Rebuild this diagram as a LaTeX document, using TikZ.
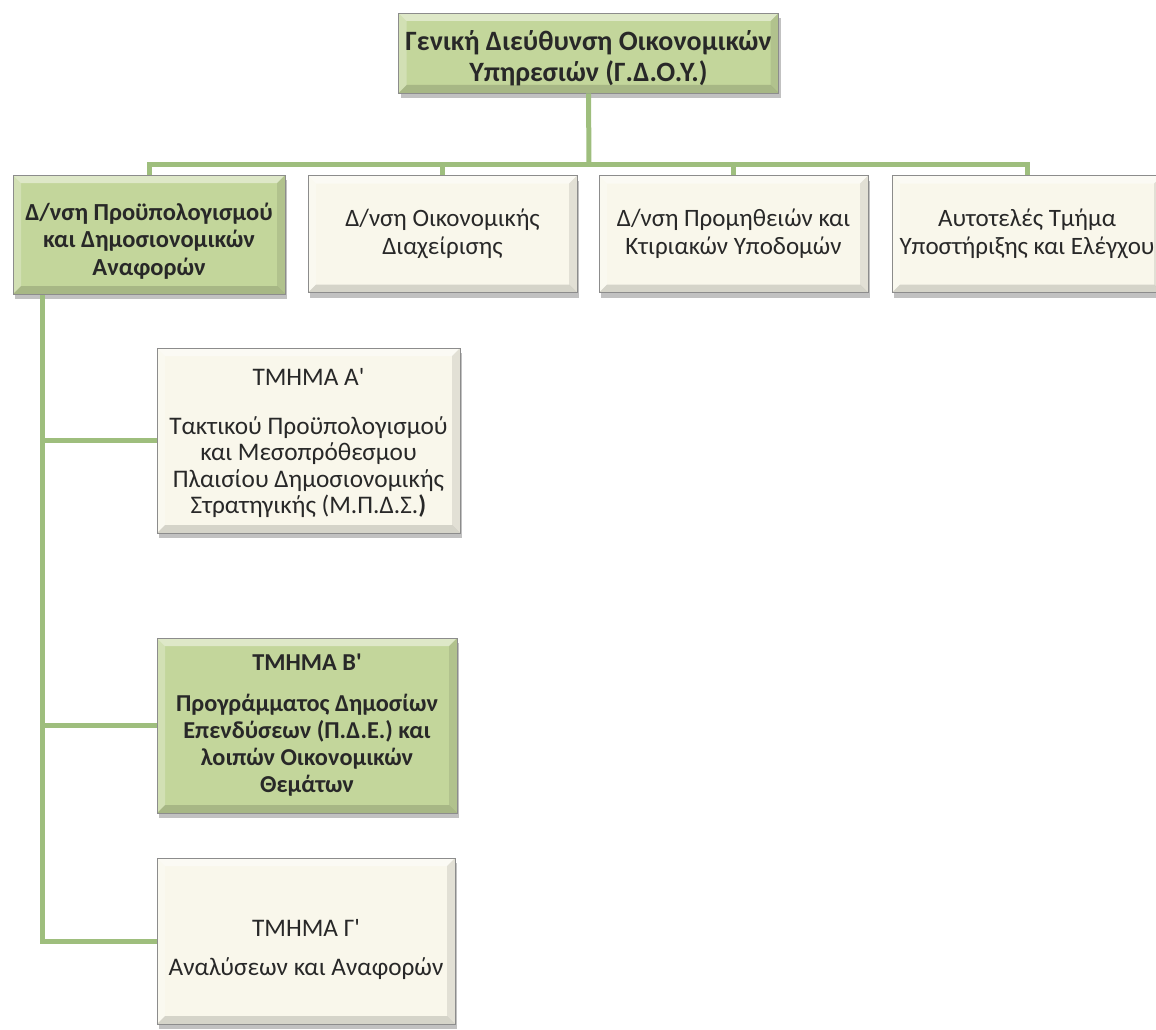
\documentclass[tikz,border=0pt]{standalone}
\usepackage{fontspec}
\setmainfont{Carlito}
\usetikzlibrary{shadows}
\newcommand\mystrut[1]{\rule{0pt}{#1}}
\definecolor{boxgreen}{RGB}{195,214,155}
\definecolor{boxcream}{RGB}{249,247,235}
\definecolor{linkgreen}{RGB}{158,190,125}
\definecolor{txt}{RGB}{40,40,40}
\definecolor{edge}{RGB}{140,140,140}
\tikzset{
  bevel/.style={path picture={
    \fill[white,opacity=0.45] (path picture bounding box.north west) -- (path picture bounding box.north east)
      -- ([shift={(-8pt,-8pt)}]path picture bounding box.north east) -- ([shift={(8pt,-8pt)}]path picture bounding box.north west) -- cycle;
    \fill[white,opacity=0.25] (path picture bounding box.north west) -- (path picture bounding box.south west)
      -- ([shift={(8pt,8pt)}]path picture bounding box.south west) -- ([shift={(8pt,-8pt)}]path picture bounding box.north west) -- cycle;
    \fill[black,opacity=0.14] (path picture bounding box.south west) -- (path picture bounding box.south east)
      -- ([shift={(-8pt,8pt)}]path picture bounding box.south east) -- ([shift={(8pt,8pt)}]path picture bounding box.south west) -- cycle;
    \fill[black,opacity=0.09] (path picture bounding box.north east) -- (path picture bounding box.south east)
      -- ([shift={(-8pt,8pt)}]path picture bounding box.south east) -- ([shift={(-8pt,-8pt)}]path picture bounding box.north east) -- cycle;
  }},
  unitbox/.style={draw=edge, line width=0.8pt, bevel, align=center, text=txt, inner sep=0pt,
    drop shadow={shadow xshift=2pt, shadow yshift=-5pt, opacity=0.35, fill=black!70}},
  greenbox/.style={unitbox, fill=boxgreen},
  creambox/.style={unitbox, fill=boxcream},
  link/.style={draw=linkgreen, line width=5pt},
  topfont/.style={font=\fontsize{28}{31}\selectfont\bfseries},
  rowfont/.style={font=\fontsize{25}{28}\selectfont},
  rowbold/.style={font=\fontsize{24.5}{27.5}\selectfont\bfseries},
  subfont/.style={font=\fontsize{25.3}{26.5}\selectfont},
  subbold/.style={font=\fontsize{24.3}{27.2}\selectfont\bfseries},
}
\begin{document}
\begin{tikzpicture}[x=1pt,y=-1pt]
\useasboundingbox (0,0) rectangle (1156,1030);
\clip (0,0) rectangle (1156,1030);
% nodes
\node[greenbox, topfont, minimum width=380pt, minimum height=80pt] (top) at (588.5,53) {\mystrut{30pt}Γενική Διεύθυνση Οικονομικών\\Υπηρεσιών (Γ.Δ.Ο.Υ.)};
\node[greenbox, rowbold, minimum width=272pt, minimum height=119pt] (b1) at (149,234.5) {\mystrut{30pt}Δ/νση Προϋπολογισμού\\και Δημοσιονομικών\\Αναφορών};
\node[creambox, rowfont, minimum width=269pt, minimum height=117pt] (b2) at (442.5,234) {Δ/νση Οικονομικής\\Διαχείρισης};
\node[creambox, rowfont, minimum width=269pt, minimum height=117pt] (b3) at (733.5,234) {Δ/νση Προμηθειών και\\Κτιριακών Υποδομών};
\node[creambox, rowfont, minimum width=270pt, minimum height=117pt] (b4) at (1027,234) {Αυτοτελές Τμήμα\\Υποστήριξης και Ελέγχου};
\node[creambox, subfont, minimum width=303pt, minimum height=185pt] (tA) at (308.5,440.5) {\mystrut{23pt}ΤΜΗΜΑ Α\textquotesingle\\[22pt]Τακτικού Προϋπολογισμού\\και Μεσοπρόθεσμου\\Πλαισίου Δημοσιονομικής\\Στρατηγικής (Μ.Π.Δ.Σ.\textbf{)}};
\node[greenbox, subbold, minimum width=300pt, minimum height=175pt] (tB) at (307,725.5) {ΤΜΗΜΑ Β\textquotesingle\\[13pt]Προγράμματος Δημοσίων\\Επενδύσεων (Π.Δ.Ε.) και\\λοιπών Οικονομικών\\Θεμάτων};
\node[creambox, subfont, minimum width=298pt, minimum height=166pt] (tC) at (306,941) {\mystrut{34pt}ΤΜΗΜΑ Γ\textquotesingle\\[12pt]Αναλύσεων και Αναφορών};
% connectors
\coordinate (bus) at (589,164);
\coordinate (lv) at (42,295);
\draw[link] (top.south) -- (bus);
\draw[link] (bus) -| (b1.north);
\draw[link] (bus) -| (b2.north);
\draw[link] (bus) -| (b3.north);
\draw[link] (bus) -| (b4.north);
\draw[link] (lv) |- (tA.west);
\draw[link] (lv) |- (tB.west);
\draw[link] (lv) |- (tC.west);
\end{tikzpicture}
\end{document}
